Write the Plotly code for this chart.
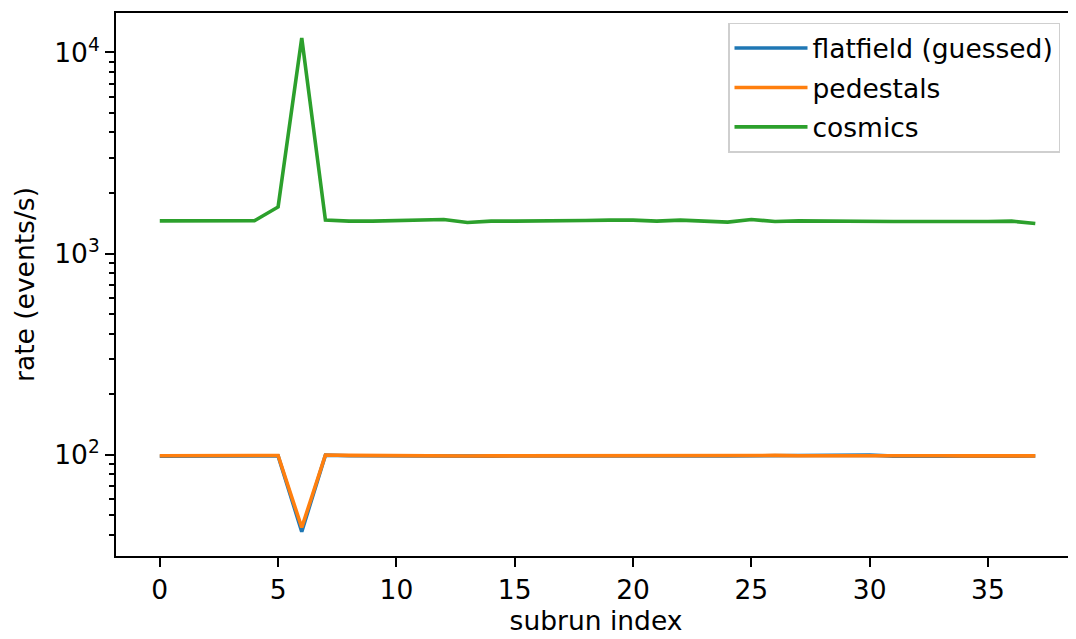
import plotly.graph_objects as go

subrun = list(range(38))

flatfield = [98.4, 98.5, 98.5, 98.4, 98.6, 98.8, 41.5, 99.6, 99.0, 98.8,
             98.4, 98.7, 98.6, 98.4, 98.5, 98.6, 98.7, 99.0, 98.6, 98.6,
             98.8, 98.9, 98.8, 98.7, 98.7, 98.9, 99.6, 99.4, 99.6, 99.8,
             99.6, 98.5, 98.7, 98.8, 98.6, 98.4, 98.5, 98.6]
pedestals = [99.0, 99.0, 99.0, 98.8, 99.0, 99.2, 43.5, 99.8, 99.3, 99.0,
             98.6, 99.0, 98.9, 98.7, 98.8, 98.9, 99.0, 99.2, 98.9, 98.9,
             99.0, 99.1, 99.0, 99.0, 98.9, 99.0, 99.3, 98.9, 99.0, 99.4,
             99.3, 98.7, 98.9, 99.0, 98.8, 98.6, 98.7, 98.8]
cosmics = [1455, 1455, 1457, 1457, 1457, 1705, 11800, 1467, 1450, 1450,
           1455, 1467, 1478, 1428, 1450, 1450, 1450, 1455, 1461, 1467,
           1467, 1450, 1467, 1450, 1434, 1478, 1444, 1455, 1450, 1444,
           1439, 1444, 1444, 1444, 1434, 1444, 1450, 1412]

series_names = ["flatfield (guessed)", "pedestals", "cosmics"]
series_colors = ["#1f77b4", "#ff7f0e", "#2ca02c"]

y_tickvals = [100, 1000, 10000]
y_ticktext = ["10<sup>2</sup>", "10<sup>3</sup>", "10<sup>4</sup>"]
x_tickvals = [0, 5, 10, 15, 20, 25, 30, 35]

FONT = "DejaVu Sans"
FS = 26.5

fig = go.Figure()
for i, (name, vals, col) in enumerate(zip(series_names, [flatfield, pedestals, cosmics], series_colors)):
    fig.add_trace(go.Scatter(x=subrun, y=vals, mode="lines", name=name,
                             legendgroup=f"g{i}",
                             line=dict(color=col, width=3.6)))

minor_vals = [m * 10 ** k for k in range(1, 5) for m in range(2, 10)]

# the page body adds an 8px offset; the figure is sized to fit the window
fig.update_layout(
    width=1068, height=631,
    margin=dict(l=108, r=0, t=4.5, b=83, autoexpand=False),
    paper_bgcolor="white", plot_bgcolor="white",
    font=dict(family=FONT, size=FS, color="black"),
    showlegend=True,
    legend=dict(x=0.6375, y=0.982, xanchor="left", yanchor="top",
                bgcolor="white", bordercolor="#cfcfcf", borderwidth=1.5,
                font=dict(family=FONT, size=FS, color="black"),
                tracegroupgap=2, itemwidth=73),
    xaxis=dict(range=[-1.85, 38.72], tickvals=x_tickvals, automargin=False,
               showgrid=False, zeroline=False,
               showline=True, linecolor="black", linewidth=2, mirror=True,
               ticks="outside", ticklen=9, tickwidth=2, tickcolor="black",
               tickfont=dict(family=FONT, size=FS, color="black"),
               title=dict(text="subrun index", standoff=8,
                          font=dict(family=FONT, size=FS, color="black"))),
    yaxis=dict(type="log", range=[1.497, 4.196], automargin=False,
               tickvals=y_tickvals, ticktext=y_ticktext,
               showgrid=False, zeroline=False,
               showline=True, linecolor="black", linewidth=2, mirror=False,
               ticks="outside", ticklen=9, tickwidth=2, tickcolor="black",
               tickfont=dict(family=FONT, size=FS, color="black"),
               minor=dict(tickvals=minor_vals, ticks="outside", ticklen=5,
                          tickwidth=1.5, tickcolor="black", showgrid=False),
               title=dict(text="rate (events/s)", standoff=12,
                          font=dict(family=FONT, size=FS, color="black"))),
)

fig.write_html("out.html")
